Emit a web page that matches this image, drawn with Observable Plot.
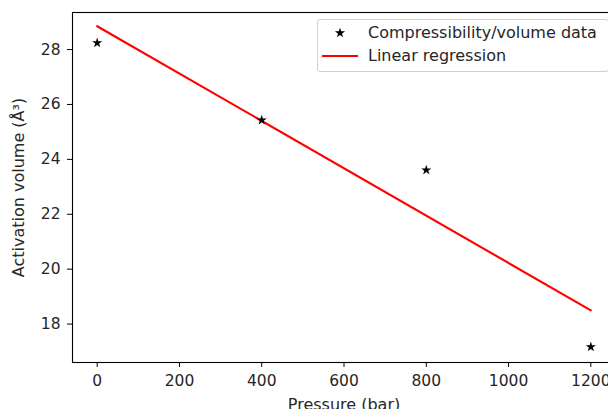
<!DOCTYPE html>
<html><head><meta charset="utf-8">
<script src="https://cdn.jsdelivr.net/npm/d3@7"></script>
<script src="https://cdn.jsdelivr.net/npm/@observablehq/plot@0.6"></script>
<style>
html,body{margin:0;padding:0;background:#fff;overflow:hidden;}
#wrap{position:relative;width:608px;height:409px;overflow:hidden;font-family:"DejaVu Sans",sans-serif;}
#wrap svg{display:block;}
#legend{position:absolute;left:317px;top:19px;width:292px;height:53px;border:1px solid #d0d0d0;border-radius:3px;background:rgba(255,255,255,0.8);box-sizing:border-box;}
.row{position:absolute;left:0;height:22px;line-height:22px;font-size:16px;color:#262626;white-space:nowrap;}
.row svg{position:absolute;left:3px;top:0;}
.row span{position:absolute;left:50px;top:0;}
</style></head><body><div id="wrap"></div>
<script>
const pressure = [0, 400, 800, 1200];
const activationVolume = [28.24, 25.43, 23.61, 17.17];
const fitPressure = [0, 1200];
const fitVolume = [28.85, 18.5];
const xTicks = [0, 200, 400, 600, 800, 1000, 1200];
const yTicks = [18, 20, 22, 24, 26, 28];
const seriesNames = ["Compressibility/volume data", "Linear regression"];
const xLabel = "Pressure (bar)";
const yLabel = "Activation volume (Å³)";

const points = pressure.map((p, i) => ({p, v: activationVolume[i]}));
const fit = fitPressure.map((p, i) => ({p, v: fitVolume[i]}));

const chart = Plot.plot({
  width: 608, height: 409,
  marginLeft: 72, marginRight: -7, marginTop: 12, marginBottom: 47,
  style: {fontFamily: "DejaVu Sans", fontSize: "15.5px", color: "#262626", background: "#fff", overflow: "hidden"},
  x: {domain: [-60, 1260]},
  y: {domain: [16.6, 29.35]},
  marks: [
    Plot.axisX(xTicks, {tickSize: 5, tickPadding: 7, label: null, stroke: "#000", tickFormat: d3.format("d")}),
    Plot.axisY(yTicks, {tickSize: 5, tickPadding: 7, label: null, stroke: "#000", tickFormat: d3.format("d")}),
    Plot.line(fit, {x: "p", y: "v", stroke: "#ff0000", strokeWidth: 2.1}),
    Plot.dot(points, {x: "p", y: "v", symbol: "star", r: 3.2, fill: "#000", stroke: "none"}),
    Plot.frame({stroke: "#000", strokeWidth: 1.1}),
    Plot.text([xLabel], {frameAnchor: "bottom", dy: 42, lineAnchor: "middle", textAnchor: "middle", fill: "#262626", fontSize: 16}),
    Plot.text([yLabel], {frameAnchor: "left", rotate: -90, dx: -54, lineAnchor: "middle", textAnchor: "middle", fill: "#262626", fontSize: 16})
  ]
});
const wrap = document.getElementById("wrap");
wrap.appendChild(chart);

// legend
const legend = document.createElement("div");
legend.id = "legend";
const star = d3.symbol(d3.symbolStar, Math.PI * 3.2 * 3.2)();
legend.innerHTML =
  `<div class="row" style="top:2px;width:290px"><svg width="44" height="22"><path d="${star}" transform="translate(19,11)" fill="#000"/></svg><span>${seriesNames[0]}</span></div>` +
  `<div class="row" style="top:25px;width:290px"><svg width="44" height="22"><line x1="1" x2="37" y1="11" y2="11" stroke="#ff0000" stroke-width="2.1"/></svg><span>${seriesNames[1]}</span></div>`;
wrap.appendChild(legend);
</script></body></html>
